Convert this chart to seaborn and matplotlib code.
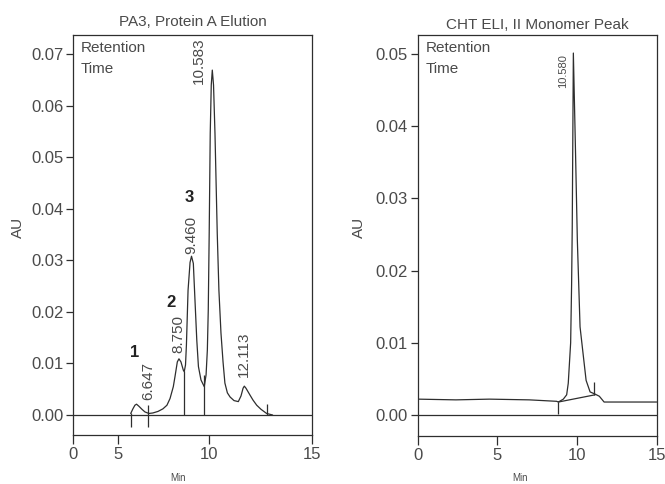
import numpy as np
import pandas as pd
import matplotlib
matplotlib.use("Agg")
import matplotlib.pyplot as plt
import seaborn as sns

# ---------------- data ----------------
# Left panel: PA3, Protein A Elution (x in minutes)
pa3_time = [5.70, 5.82, 5.93, 6.02, 6.15, 6.32, 6.48, 6.70, 6.92, 7.20, 7.47, 7.69,
            7.86, 8.04, 8.13, 8.26, 8.35, 8.46, 8.59, 8.64, 8.71, 8.76, 8.85, 8.96,
            9.04, 9.14, 9.23, 9.33, 9.42, 9.56, 9.74, 9.84, 9.91, 9.96, 10.01, 10.06,
            10.11, 10.16, 10.22, 10.29, 10.40, 10.48, 10.58, 10.68, 10.77, 10.89, 11.02,
            11.21, 11.42, 11.55, 11.65, 11.71, 11.79, 11.98, 12.13, 12.31, 12.52, 12.79,
            13.08]
pa3_au = [0.0003, 0.0012, 0.0019, 0.0021, 0.0017, 0.0011, 0.0006, 0.0003, 0.0004, 0.0007,
          0.0012, 0.0019, 0.0032, 0.0055, 0.0074, 0.0103, 0.0109, 0.0103, 0.0087, 0.0084,
          0.0097, 0.0136, 0.0242, 0.0296, 0.0308, 0.0294, 0.0223, 0.0145, 0.0094, 0.0068,
          0.0055, 0.0078, 0.0126, 0.0203, 0.0352, 0.0546, 0.0640, 0.0669, 0.0640, 0.0546,
          0.0352, 0.0242, 0.0159, 0.0103, 0.0062, 0.0043, 0.0035,
          0.0028, 0.0026, 0.0037, 0.0052, 0.0056, 0.0052, 0.0039, 0.0029, 0.0019, 0.0011,
          0.0003, 0.0000]
pa3_mark_x = [5.70, 6.63, 8.64, 9.74, 12.79]
pa3_mark_lo = [-0.0024, -0.0024, 0.0, 0.0, 0.0]
pa3_mark_hi = [0.0003, 0.0019, 0.0086, 0.0077, 0.0021]
pa3_rt_labels = ["6.647", "8.750", "9.460", "10.583", "12.113"]
pa3_rt_x = [6.65, 8.31, 9.03, 9.45, 11.71]
pa3_rt_y = [0.0029, 0.0120, 0.0313, 0.0643, 0.0074]
pa3_peak_ids = ["1", "2", "3"]
pa3_peak_x = [5.93, 7.91, 8.90]
pa3_peak_y = [0.0122, 0.0219, 0.0422]

# Right panel: CHT ELI, II Monomer Peak
cht_time = [0.0, 2.4, 4.5, 7.0, 8.72, 8.83, 9.14, 9.35, 9.45, 9.60, 9.66, 9.70, 9.77,
            9.90, 10.02, 10.19, 10.40, 10.57, 10.82, 11.13, 11.40, 11.70, 15.0]
cht_au = [0.0022, 0.0021, 0.0022, 0.0021, 0.0019, 0.0018, 0.0022, 0.0028, 0.0044, 0.0100,
          0.0180, 0.0260, 0.0501, 0.0370, 0.0242, 0.0122, 0.0081, 0.0048, 0.0032, 0.0029,
          0.0026, 0.0018, 0.0018]
cht_base_x = [8.83, 11.13]
cht_base_y = [0.0018, 0.0028]
cht_mark_x = [8.83, 11.09]
cht_mark_lo = [0.0002, 0.0028]
cht_mark_hi = [0.0018, 0.0046]
cht_rt_labels = ["10.580"]
cht_rt_x = [9.12]
cht_rt_y = [0.0453]

x_ticks = [0, 5, 10, 15]
pa3_y_ticks = [0.00, 0.01, 0.02, 0.03, 0.04, 0.05, 0.06, 0.07]
cht_y_ticks = [0.00, 0.01, 0.02, 0.03, 0.04, 0.05]
titles = ["PA3, Protein A Elution", "CHT ELI, II Monomer Peak"]

# ---------------- style ----------------
sns.set_theme(style="white")
plt.rcParams["font.family"] = ["Liberation Sans", "DejaVu Sans"]
TXT = "#4a4a4a"
LN = "#2e2e2e"
plt.rcParams.update({
    "text.color": TXT, "axes.labelcolor": TXT,
    "xtick.color": LN, "ytick.color": LN,
    "xtick.labelcolor": TXT, "ytick.labelcolor": TXT,
    "axes.edgecolor": LN, "axes.linewidth": 0.9,
})

fig = plt.figure(figsize=(6.65, 4.84), dpi=100)
axL = fig.add_axes([0.1102, 0.1012, 0.3594, 0.8264])
axR = fig.add_axes([0.6281, 0.0992, 0.3594, 0.8285])

# piecewise axis of the left chart (tick spacing in the original is uneven)
lab_pts = [0, 5, 10, 15]
pos_pts = [0, 2.805, 8.517, 15]
axL.set_xscale("function", functions=(lambda v: np.interp(v, lab_pts, pos_pts),
                                      lambda v: np.interp(v, pos_pts, lab_pts)))

dfL = pd.DataFrame({"t": pa3_time, "au": pa3_au})
dfR = pd.DataFrame({"t": cht_time, "au": cht_au})
sns.lineplot(data=dfL, x="t", y="au", ax=axL, sort=False, estimator=None,
             color=LN, lw=0.9)
sns.lineplot(data=dfR, x="t", y="au", ax=axR, sort=False, estimator=None,
             color=LN, lw=0.9)
sns.lineplot(x=cht_base_x, y=cht_base_y, ax=axR, sort=False, estimator=None,
             color=LN, lw=0.9)

axL.vlines(pa3_mark_x, pa3_mark_lo, pa3_mark_hi, color=LN, lw=0.9)
axR.vlines(cht_mark_x, cht_mark_lo, cht_mark_hi, color=LN, lw=0.9)

for ax in (axL, axR):
    ax.axhline(0, color=LN, lw=0.9, zorder=1)

axL.set_xlim(0, 15)
axL.set_ylim(-0.00388, 0.0737)
axR.set_xlim(0, 15)
axR.set_ylim(-0.0029, 0.0526)

for ax, yt in ((axL, pa3_y_ticks), (axR, cht_y_ticks)):
    ax.set_xticks(x_ticks)
    ax.set_xticklabels([str(v) for v in x_ticks])
    ax.set_yticks(yt)
    ax.set_yticklabels([f"{v:.2f}" for v in yt])
    ax.tick_params(axis="x", direction="out", length=6.5, width=0.9, pad=2,
                   labelsize=12, bottom=True)
    ax.tick_params(axis="y", direction="out", length=5, width=0.9, pad=2,
                   labelsize=12, left=True)
    for s in ax.spines.values():
        s.set_visible(True)
    ax.set_xlabel("Min", fontsize=7)
    ax.set_ylabel("AU", fontsize=11)
    ax.xaxis.label.set_va("center")
    ax.yaxis.label.set_va("center")
    ax.text(0.032, 0.967, "Retention", transform=ax.transAxes, fontsize=11,
            ha="left", va="center")
    ax.text(0.032, 0.914, "Time", transform=ax.transAxes, fontsize=11,
            ha="left", va="center")

axL.xaxis.set_label_coords(0.438, -0.1075)
axR.xaxis.set_label_coords(0.428, -0.105)
axL.yaxis.set_label_coords(-0.231, 0.52)
axR.yaxis.set_label_coords(-0.244, 0.52)

axL.set_title(titles[0], fontsize=11, pad=6.5, color=TXT)
axR.set_title(titles[1], fontsize=11, pad=4.5, color=TXT)

for lab, x, y in zip(pa3_rt_labels, pa3_rt_x, pa3_rt_y):
    axL.text(x, y, lab, rotation=90, ha="center", va="bottom", fontsize=11)
for lab, x, y in zip(pa3_peak_ids, pa3_peak_x, pa3_peak_y):
    axL.text(x, y, lab, ha="center", va="center", fontsize=12, fontweight="bold",
             color="#222222")
for lab, x, y in zip(cht_rt_labels, cht_rt_x, cht_rt_y):
    axR.text(x, y, lab, rotation=90, ha="center", va="bottom", fontsize=8)

fig.savefig("out.png", dpi=100)
